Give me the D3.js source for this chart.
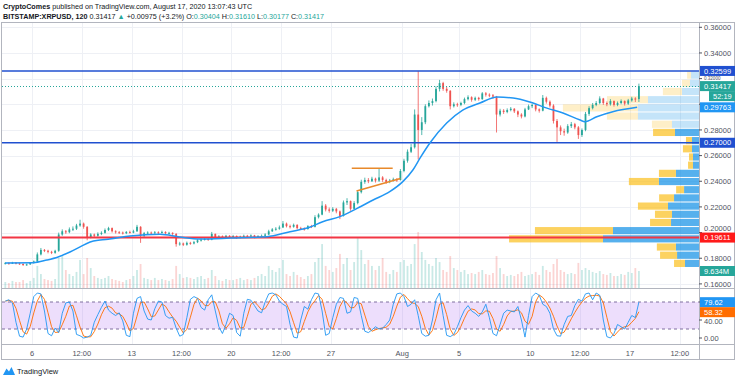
<!DOCTYPE html>
<html>
<head>
<meta charset="utf-8">
<script src="https://cdn.jsdelivr.net/npm/d3@7"></script>
<style>
body { margin: 0; background: #fff; }
svg { display: block; font-family: "Liberation Sans", Arial, sans-serif; }
</style>
</head>
<body>
<svg id="chart" width="736" height="380"></svg>
<script>
// XRPUSD (6h buckets of the 2h chart)
var startTime = Date.UTC(2020, 6, 4, 0);
var barHours = 6;
var firstOpen = 0.1760;

var closes = [
  .1762,.1758,.1765,.1760, .1755,.1748,.1752,.1763, .1775,.1830,.1865,.1858, .1850,.1842,.1858,.1985,
  .2010,.2003,.2025,.2030, .2055,.2070,.2045,.1965, .1985,.1975,.1990,.1998, .2020,.2035,.2010,.2003,
  .2000,.1995,.2005,.2000, .2010,.2045,.1975,.1995, .2000,.1995,.2002,.1998, .2005,.1995,.1998,.1990,
  .1910,.1915,.1905,.1920, .1915,.1925,.1940,.1945, .1950,.1945,.1990,.1965, .1970,.1965,.1975,.1968,
  .1972,.1965,.1968,.1975, .1970,.1978,.1965,.1972, .1975,.1985,.2010,.2025, .2030,.2040,.2070,.2050,
  .2045,.2060,.2035,.2030, .2028,.2050,.2045,.2120, .2140,.2210,.2180,.2170, .2185,.2165,.2130,.2235,
  .2245,.2185,.2230,.2315, .2395,.2410,.2400,.2420, .2405,.2430,.2410,.2395, .2405,.2415,.2410,.2480,
  .2560,.2630,.2665,.2920, .2800,.2860,.2985,.3010, .3025,.3120,.3165,.3120, .3105,.2985,.3000,.2995,
  .3010,.3040,.3055,.3035, .3050,.3040,.3085,.3075, .3070,.3060,.2920,.2950, .2940,.2955,.2965,.2945,
  .2920,.2905,.2960,.2985, .2995,.2960,.2950,.3050, .3020,.2990,.2870,.2820, .2790,.2780,.2830,.2845,
  .2820,.2760,.2800,.2925, .2970,.2995,.3010,.3045, .3010,.3000,.3025,.2995, .3010,.3025,.3005,.3030,
  .3045,.30404,.31417
];
var highs = [
  .1770,.1768,.1772,.1770, .1765,.1760,.1758,.1768, .1782,.1845,.1880,.1872, .1866,.1858,.1866,.2000,
  .2025,.2020,.2040,.2048, .2068,.2100,.2078,.2050, .1995,.1992,.2002,.2010, .2032,.2045,.2040,.2018,
  .2012,.2008,.2012,.2015, .2022,.2060,.2050,.2005, .2010,.2008,.2012,.2010, .2015,.2010,.2006,.2002,
  .1995,.1928,.1922,.1930, .1928,.1935,.1948,.1955, .1960,.1958,.2005,.1992, .1980,.1978,.1982,.1980,
  .1982,.1978,.1976,.1984, .1982,.1986,.1982,.1980, .1985,.1995,.2022,.2035, .2042,.2055,.2090,.2078,
  .2062,.2070,.2065,.2045, .2040,.2058,.2060,.2135, .2150,.2245,.2222,.2195, .2198,.2192,.2172,.2250,
  .2268,.2250,.2245,.2330, .2412,.2428,.2425,.2435, .2428,.2500,.2440,.2420, .2418,.2428,.2425,.2495,
  .2575,.2648,.2690,.2960, .3259,.2900,.3000,.3030, .3045,.3140,.3190,.3175, .3135,.3110,.3015,.3012,
  .3020,.3052,.3070,.3062, .3060,.3058,.3095,.3095, .3085,.3080,.3065,.2965, .2962,.2968,.2978,.2970,
  .2952,.2930,.2972,.2998, .3005,.3000,.2968,.3072, .3060,.3030,.3000,.2885, .2835,.2810,.2845,.2862,
  .2855,.2830,.2812,.2940, .2985,.3010,.3025,.3062, .3050,.3022,.3040,.3030, .3022,.3038,.3030,.3042,
  .3058,.3055,.3161
];
var lows = [
  .1752,.1750,.1755,.1752, .1748,.1740,.1742,.1748, .1758,.1770,.1822,.1848, .1838,.1832,.1835,.1850,
  .1975,.1990,.1995,.2012, .2020,.2045,.2030,.1940, .1955,.1962,.1968,.1980, .1992,.2012,.2000,.1992,
  .1990,.1985,.1988,.1992, .1995,.2005,.1920,.1965, .1985,.1985,.1990,.1988, .1992,.1988,.1985,.1978,
  .1890,.1898,.1895,.1898, .1905,.1908,.1918,.1930, .1938,.1935,.1940,.1955, .1958,.1955,.1960,.1958,
  .1960,.1950,.1955,.1962, .1960,.1965,.1955,.1960, .1965,.1970,.1980,.2005, .2015,.2022,.2035,.2040,
  .2032,.2038,.2025,.2020, .2015,.2022,.2035,.2040, .2110,.2135,.2165,.2155, .2160,.2150,.2105,.2125,
  .2215,.2170,.2180,.2220, .2305,.2380,.2385,.2395, .2390,.2395,.2395,.2380, .2385,.2398,.2395,.2405,
  .2470,.2545,.2620,.2655, .2570,.2760,.2845,.2975, .2990,.3015,.3100,.3105, .3090,.2960,.2975,.2980,
  .2985,.3000,.3030,.3020, .3025,.3028,.3035,.3060, .3055,.3045,.2780,.2905, .2925,.2930,.2945,.2932,
  .2900,.2890,.2898,.2955, .2970,.2945,.2935,.2945, .3005,.2975,.2850,.2707, .2760,.2755,.2770,.2815,
  .2805,.2730,.2745,.2790, .2910,.2960,.2985,.3000, .2995,.2985,.2990,.2982, .2985,.3000,.2990,.2995,
  .3020,.3018,.30177
];
// volume, millions
var volumes = [
  3.4,2.8,4.0,3.4, 3.4,4.5,2.8,4.0, 5.7,12.5,7.9,5.1, 4.5,4.0,5.1,17.0,
  18.1,10.2,7.9,6.8, 9.1,15.9,7.9,17.0, 11.3,6.8,5.7,5.1, 5.7,6.8,5.1,4.5,
  4.0,3.4,4.5,5.1, 6.8,10.2,13.6,5.7, 5.1,4.5,5.7,4.5, 5.1,4.5,4.0,5.1,
  12.5,7.9,5.7,6.2, 5.7,5.1,6.2,6.8, 5.1,5.7,10.2,6.8, 4.5,4.0,5.1,4.5,
  4.5,5.1,5.7,4.5, 5.1,4.5,5.7,6.8, 7.9,6.8,12.5,10.2, 9.1,11.3,15.9,7.9,
  6.8,9.1,7.4,6.2, 5.1,6.8,7.9,14.7, 17.0,24.9,12.5,10.2, 9.1,11.3,19.3,13.6,
  17.0,10.2,14.7,28.3, 21.5,13.6,15.9,12.5, 10.2,12.5,17.0,9.1, 7.9,10.2,9.1,14.7,
  15.9,12.5,13.6,24.9, 31.7,20.4,15.9,13.6, 12.5,17.0,14.7,10.2, 9.1,18.1,11.3,10.2,
  9.1,10.2,7.9,8.5, 7.9,9.1,10.2,7.9, 7.4,8.5,18.1,11.3, 7.9,6.8,7.4,6.8,
  7.9,9.1,6.8,7.4, 7.9,9.1,7.4,12.5, 10.2,9.1,13.6,16.4, 10.2,9.1,7.9,8.5,
  7.9,14.2,10.2,11.3, 10.2,9.1,8.5,9.6, 7.9,7.4,8.5,6.8, 6.8,7.9,7.4,9.1,
  8.5,11.3,9.634
];
// stoch RSI %K
var stochK = [
  82,85,78,35,4,2,20,55,92,100, 98,60,10,5,22,12,55,78,80,60,
  8,5,0,2,6,35,52,68,82,62, 55,50,56,38,6,3,55,88,92,60,
  42,40,65,82,80,50,44,46,22,4, 8,45,86,92,88,68,62,85,96,60,
  25,10,30,55,50,12,4,55,86,84, 72,60,56,80,98,100,96,82,75,70,
  30,2,0,40,70,64,85,100,98,60, 6,10,45,75,90,88,55,58,90,88,
  50,15,12,18,25,20,22,30,40,75, 98,100,92,70,75,85,50,10,4,6,
  40,85,100,50,6,3,8,25,45,62, 72,60,55,48,58,75,45,10,5,30,
  55,62,60,58,70,40,2,50,92,100, 95,75,70,55,20,5,4,30,48,50,
  72,86,82,98,100,85,100,95,40,3, 0,10,30,25,20,35,50,45.34,79.62
];
// moving average (blue), read at points along the curve
var maTimes = [
  "2020-07-04T03:00Z","2020-07-06T02:00Z","2020-07-07T01:00Z","2020-07-07T20:00Z","2020-07-08T16:00Z",
  "2020-07-09T09:00Z","2020-07-10T02:00Z","2020-07-10T19:00Z","2020-07-11T11:00Z","2020-07-12T21:00Z",
  "2020-07-15T00:00Z","2020-07-16T09:00Z","2020-07-17T19:00Z","2020-07-19T22:00Z","2020-07-22T12:00Z",
  "2020-07-24T03:00Z","2020-07-25T12:00Z","2020-07-26T10:00Z","2020-07-27T15:00Z","2020-07-28T20:00Z",
  "2020-07-29T23:00Z","2020-07-31T03:00Z","2020-08-01T01:00Z","2020-08-01T18:00Z","2020-08-02T06:00Z",
  "2020-08-02T23:00Z","2020-08-04T03:00Z","2020-08-05T06:00Z","2020-08-06T11:00Z","2020-08-07T16:00Z",
  "2020-08-08T19:00Z","2020-08-09T23:00Z","2020-08-11T04:00Z","2020-08-12T07:00Z","2020-08-13T12:00Z",
  "2020-08-13T20:00Z","2020-08-14T16:00Z","2020-08-15T19:00Z","2020-08-17T12:00Z"
];
var maValues = [
  .1763,.1765,.1786,.1810,.1849, .1888,.1927,.1942,.1950,.1973,
  .1987,.1966,.1950,.1957,.1968, .2007,.2041,.2085,.2124,.2189,
  .2254,.2319,.2397,.2488,.2580, .2700,.2854,.2955,.3010,.3057,
  .3049,.3018,.2970,.2932,.2877, .2864,.2903,.2942,.29763
];
// visible-range volume profile, bottom row first
var vpLow = 0.1728, vpHigh = 0.3259, vaHigh = 0.2814;
var vpDown = [5.8,9.0,10.1,49.7,41.3,11.1,9.0,15.9,7.9,4.2,15.9,9.0,2.6,2.1,4.8,3.2,11.6,10.6,16.4,39.7,21.7,10.1,4.2,2.1];
var vpUp   = [7.4,11.6,12.2,50.8,45.5,14.8,14.3,16.4,13.2,7.9,21.2,12.2,3.2,3.2,3.7,3.7,12.7,14.3,32.3,32.3,27.0,9.0,4.8,4.2];

var blueLevels = [0.32599, 0.27000];
var redLevel = 0.19611;
var lastPrice = 0.31417, countdown = "52:19";
var triTopTimes = ["2020-07-28T11:00Z", "2020-07-31T08:00Z"], triTopPrices = [0.2501, 0.2501];
var triBotTimes = ["2020-07-28T19:00Z", "2020-07-31T21:00Z"], triBotPrices = [0.2324, 0.2421];

var priceTicks = [0.16, 0.18, 0.20, 0.22, 0.24, 0.26, 0.28, 0.30, 0.32, 0.34, 0.36];
var stochTicks = [0, 40, 80];
var timeTicks = ["2020-07-06","2020-07-09T12:00Z","2020-07-13","2020-07-16T12:00Z","2020-07-20","2020-07-23T12:00Z",
  "2020-07-27","2020-08-01","2020-08-05","2020-08-10","2020-08-13T12:00Z","2020-08-17","2020-08-20T12:00Z"];
var timeLabels = ["6","12:00","13","12:00","20","12:00","27","Aug","5","10","12:00","17","12:00"];

var UP = "#26a69a", DOWN = "#ef5350";
var L = 2, R = 699, mainTop = 22, mainBot = 288, stBot = 344, axBot = 359;

var svg = d3.select("#chart");
var x = d3.scaleTime()
  .domain([new Date(Date.UTC(2020, 6, 6)), new Date(Date.UTC(2020, 7, 17))])
  .range([32, 630]);
var y = d3.scaleLinear().domain([0.16, 0.36]).range([283.9, 27.3]);
var vy = d3.scaleLinear().domain([0, 34]).range([mainBot, mainBot - 60]);
var sy = d3.scaleLinear().domain([0, 100]).range([338, 293]);
var vpx = d3.scaleLinear().domain([0, 100]).range([0, 189]);

var step = barHours * 3600e3;
var bars = closes.map(function (c, i) {
  var t = new Date(startTime + i * step);
  return { t: t, mid: new Date(+t + step / 2), o: i ? closes[i - 1] : firstOpen, h: highs[i], l: lows[i], c: c, v: volumes[i], k: stochK[i] };
});
bars.forEach(function (b, i) {
  b.d = d3.mean(stochK.slice(Math.max(0, i - 2), i + 1));
});

var defs = svg.append("defs");
defs.append("clipPath").attr("id", "mainClip").append("rect")
  .attr("x", L).attr("y", mainTop).attr("width", R - L).attr("height", mainBot - mainTop);
defs.append("clipPath").attr("id", "stClip").append("rect")
  .attr("x", L).attr("y", mainBot).attr("width", R - L).attr("height", stBot - mainBot);

// header
var head = svg.append("g").attr("font-size", 7.2).attr("fill", "#131722");
var t1 = head.append("text").attr("x", 3).attr("y", 9);
t1.append("tspan").attr("font-weight", "bold").text("CryptoComes");
t1.append("tspan").text(" published on TradingView.com, August 17, 2020 13:07:43 UTC");
var t2 = head.append("text").attr("x", 3).attr("y", 18.5);
t2.append("tspan").attr("font-weight", "bold").text("BITSTAMP:XRPUSD, 120");
t2.append("tspan").text(" 0.31417 ");
t2.append("tspan").attr("fill", UP).text("▲");
t2.append("tspan").text(" +0.00975 (+3.2%) O:");
t2.append("tspan").attr("fill", UP).text("0.30404");
t2.append("tspan").text(" H:");
t2.append("tspan").attr("fill", UP).text("0.31610");
t2.append("tspan").text(" L:");
t2.append("tspan").attr("fill", UP).text("0.30177");
t2.append("tspan").text(" C:");
t2.append("tspan").attr("fill", UP).text("0.31417");

// grid
var grid = svg.append("g").attr("stroke", "#eef0f5").attr("stroke-width", 1);
priceTicks.forEach(function (p) {
  grid.append("line").attr("x1", L).attr("x2", R).attr("y1", Math.round(y(p)) + 0.5).attr("y2", Math.round(y(p)) + 0.5);
});
timeTicks.forEach(function (t) {
  var xx = Math.round(x(new Date(t))) + 0.5;
  grid.append("line").attr("x1", xx).attr("x2", xx).attr("y1", mainTop).attr("y2", stBot);
});

var main = svg.append("g").attr("clip-path", "url(#mainClip)");

// volume
main.append("g").selectAll("rect").data(bars).join("rect")
  .attr("x", function (d) { return x(d.mid) - 0.9; })
  .attr("width", 1.8)
  .attr("y", function (d) { return vy(d.v); })
  .attr("height", function (d) { return mainBot - vy(d.v); })
  .attr("fill", function (d) { return d.c >= d.o ? UP : DOWN; })
  .attr("opacity", 0.25);

// volume profile
var rowP = (vpHigh - vpLow) / vpUp.length;
var vp = main.append("g");
vpUp.forEach(function (u, k) {
  var lo = vpLow + k * rowP, hi = lo + rowP;
  var top = y(hi) + 0.5, h = y(lo) - y(hi) - 1;
  var op = (lo + hi) / 2 < vaHigh ? 0.72 : 0.25;
  vp.append("rect").attr("x", R - vpx(u)).attr("width", vpx(u)).attr("y", top).attr("height", h)
    .attr("fill", "#1592e6").attr("opacity", op);
  vp.append("rect").attr("x", R - vpx(u) - vpx(vpDown[k])).attr("width", vpx(vpDown[k])).attr("y", top).attr("height", h)
    .attr("fill", "#fbc123").attr("opacity", op);
});

// candles
var cg = main.append("g");
cg.selectAll("line").data(bars).join("line")
  .attr("x1", function (d) { return x(d.mid); }).attr("x2", function (d) { return x(d.mid); })
  .attr("y1", function (d) { return y(d.h); }).attr("y2", function (d) { return y(d.l); })
  .attr("stroke", function (d) { return d.c >= d.o ? UP : DOWN; }).attr("stroke-width", 0.8);
cg.selectAll("rect").data(bars).join("rect")
  .attr("x", function (d) { return x(d.mid) - 0.9; }).attr("width", 1.8)
  .attr("y", function (d) { return y(Math.max(d.o, d.c)); })
  .attr("height", function (d) { return Math.max(1, Math.abs(y(d.o) - y(d.c))); })
  .attr("fill", function (d) { return d.c >= d.o ? UP : DOWN; });

// horizontal levels
blueLevels.forEach(function (p) {
  main.append("line").attr("x1", L).attr("x2", R).attr("y1", y(p)).attr("y2", y(p))
    .attr("stroke", "#2050d0").attr("stroke-width", 1.5);
});
main.append("line").attr("x1", L).attr("x2", R).attr("y1", y(redLevel)).attr("y2", y(redLevel))
  .attr("stroke", "#f23645").attr("stroke-width", 2);
main.append("line").attr("x1", L).attr("x2", R).attr("y1", Math.round(y(lastPrice)) + 0.5).attr("y2", Math.round(y(lastPrice)) + 0.5)
  .attr("stroke", UP).attr("stroke-width", 1).attr("stroke-dasharray", "1,2");

// moving average
main.append("path")
  .datum(maTimes.map(function (t, i) { return [new Date(t), maValues[i]]; }))
  .attr("fill", "none").attr("stroke", "#2196f3").attr("stroke-width", 1.5)
  .attr("d", d3.line().x(function (d) { return x(d[0]); }).y(function (d) { return y(d[1]); }).curve(d3.curveMonotoneX));

// triangle drawing
[[triTopTimes, triTopPrices], [triBotTimes, triBotPrices]].forEach(function (ln) {
  main.append("line")
    .attr("x1", x(new Date(ln[0][0]))).attr("y1", y(ln[1][0]))
    .attr("x2", x(new Date(ln[0][1]))).attr("y2", y(ln[1][1]))
    .attr("stroke", "#e8892b").attr("stroke-width", 1.5);
});

// stoch RSI pane
var st = svg.append("g").attr("clip-path", "url(#stClip)");
st.append("rect").attr("x", L).attr("width", R - L).attr("y", sy(80)).attr("height", sy(20) - sy(80))
  .attr("fill", "#a45cf0").attr("opacity", 0.2);
[80, 20].forEach(function (v) {
  st.append("line").attr("x1", L).attr("x2", R).attr("y1", sy(v)).attr("y2", sy(v))
    .attr("stroke", "#7e6f9e").attr("stroke-width", 1).attr("stroke-dasharray", "3,3");
});
st.append("path").datum(bars).attr("fill", "none").attr("stroke", "#ff6d00").attr("stroke-width", 0.9)
  .attr("d", d3.line().x(function (d) { return x(d.mid); }).y(function (d) { return sy(d.d); }));
st.append("path").datum(bars).attr("fill", "none").attr("stroke", "#2196f3").attr("stroke-width", 0.9)
  .attr("d", d3.line().x(function (d) { return x(d.mid); }).y(function (d) { return sy(d.k); }));

// frame and separators
var fr = svg.append("g").attr("stroke", "#b2b5be").attr("fill", "none").attr("stroke-width", 1);
fr.append("rect").attr("x", 1.5).attr("y", mainTop + 0.5).attr("width", 733).attr("height", axBot - mainTop);
fr.append("line").attr("x1", 1.5).attr("x2", 734.5).attr("y1", mainBot + 0.5).attr("y2", mainBot + 0.5);
fr.append("line").attr("x1", 1.5).attr("x2", 734.5).attr("y1", stBot + 0.5).attr("y2", stBot + 0.5);
fr.append("line").attr("x1", R + 0.5).attr("x2", R + 0.5).attr("y1", mainTop).attr("y2", axBot);

// axis tags: price labels that sit on the scale in colour
var maLast = maValues[maValues.length - 1];
var kLast = stochK[stochK.length - 1], dLast = bars[bars.length - 1].d;
var tagH = 10;
var priceTags = [
  [y(blueLevels[0]), blueLevels[0].toFixed(5), "#2050d0", R + 1],
  [y(blueLevels[1]), blueLevels[1].toFixed(5), "#2050d0", R + 1],
  [y(lastPrice), lastPrice.toFixed(5), UP, R + 1],
  [y(lastPrice) + tagH, countdown, UP, R + 10],
  [y(maLast), maLast.toFixed(5), "#2196f3", R + 1],
  [y(redLevel), redLevel.toFixed(5), "#ff1a1a", R + 1],
  [vy(volumes[volumes.length - 1]), volumes[volumes.length - 1].toFixed(3) + "M", UP, R + 1],
  [sy(kLast), kLast.toFixed(2), "#2196f3", R + 1],
  [Math.max(sy(dLast), sy(kLast) + tagH), dLast.toFixed(2), "#ff6d00", R + 1]
];
// tick labels fully under a tag are dropped, others fitted into the free gap
function placeTick(yc) {
  var above = -Infinity, below = Infinity, hit = false;
  priceTags.forEach(function (t) {
    if (Math.abs(t[0] - yc) < 3.5) hit = true;
    if (t[0] < yc) above = Math.max(above, t[0] + tagH / 2);
    else below = Math.min(below, t[0] - tagH / 2);
  });
  if (hit) return null;
  var size = 7.5;
  if (below - above >= size + 0.5) {
    return { y: Math.min(Math.max(yc, above + size / 2 + 0.2), below - size / 2 - 0.2), size: size };
  }
  return { y: (above + below) / 2, size: Math.max(4, below - above - 0.6) };
}

// price / stoch / time axis
var ax = svg.append("g").attr("font-size", 7.5).attr("fill", "#50535e");
function tickText(yc, txt) {
  var pl = placeTick(yc);
  if (pl) ax.append("text").attr("x", R + 5).attr("y", pl.y + pl.size * 0.36).attr("font-size", pl.size).text(txt);
}
priceTicks.forEach(function (p) {
  ax.append("line").attr("x1", R).attr("x2", R + 3).attr("y1", y(p)).attr("y2", y(p)).attr("stroke", "#50535e");
  tickText(y(p), p.toFixed(5));
});
stochTicks.forEach(function (v) {
  ax.append("line").attr("x1", R).attr("x2", R + 3).attr("y1", sy(v)).attr("y2", sy(v)).attr("stroke", "#50535e");
  tickText(sy(v), v.toFixed(2));
});
timeTicks.forEach(function (t, i) {
  ax.append("text").attr("x", x(new Date(t))).attr("y", 355.5).attr("text-anchor", "middle").text(timeLabels[i]);
});

priceTags.forEach(function (t) {
  svg.append("rect").attr("x", t[3]).attr("y", t[0] - tagH / 2).attr("width", 735 - t[3]).attr("height", tagH).attr("fill", t[2]);
  svg.append("text").attr("x", t[3] + 4).attr("y", t[0] + 2.7).attr("font-size", 7.5).attr("fill", "#fff").text(t[1]);
});

// TradingView mark
var logo = svg.append("g");
logo.append("path").attr("fill", "#2196f3")
  .attr("d", "M3,375 L6.5,368.5 L9,371.5 L11.5,367 L15,375 Z");
logo.append("text").attr("x", 17).attr("y", 374).attr("font-size", 7.5).attr("fill", "#131722").text("TradingView");
</script>
</body>
</html>
